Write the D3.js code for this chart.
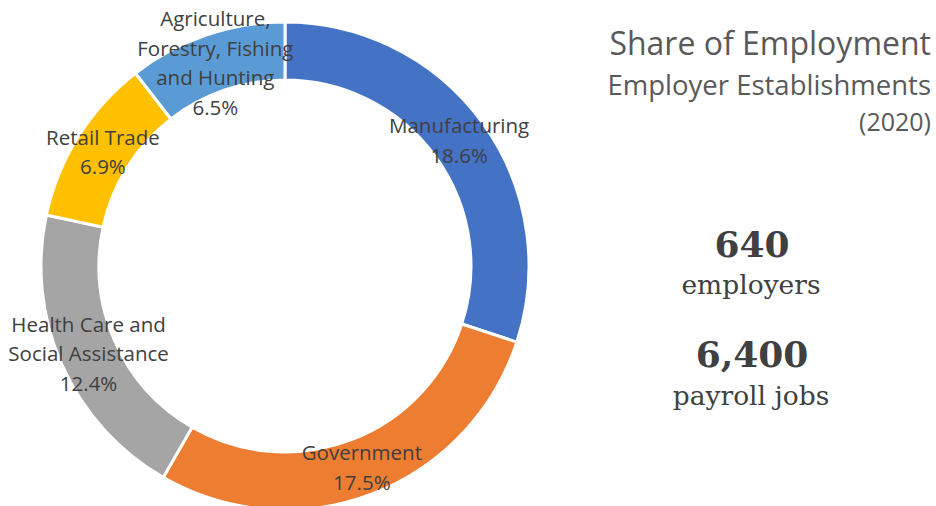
<!DOCTYPE html>
<html>
<head>
<meta charset="utf-8">
<script src="https://cdn.jsdelivr.net/npm/d3@7"></script>
<style>
  html, body { margin: 0; padding: 0; background: #fff; }
  svg { display: block; }
</style>
</head>
<body>
<svg id="chart" width="936" height="506"></svg>
<script>
// Industry shares of employment, clockwise from 12 o'clock
const categories = ["Manufacturing", "Government", "Health Care and Social Assistance", "Retail Trade", "Agriculture, Forestry, Fishing and Hunting"];
const labelLines = [
  ["Manufacturing"],
  ["Government"],
  ["Health Care and", "Social Assistance"],
  ["Retail Trade"],
  ["Agriculture,", "Forestry, Fishing", "and Hunting"]
];
const shares = [18.6, 17.5, 12.4, 6.9, 6.5];
const colors = ["#4472c4", "#ed7d31", "#a5a5a5", "#ffc000", "#5b9bd5"];

const titleLines = ["Share of Employment", "Employer Establishments", "(2020)"];
const employers = "640";
const payrollJobs = "6,400";

const svg = d3.select("#chart");
const cx = 285, cy = 266;
const outerR = 244, innerR = 186;

const data = categories.map((c, i) => ({ name: c, lines: labelLines[i], value: shares[i], color: colors[i] }));

const pie = d3.pie().sort(null).value(d => d.value);
const arc = d3.arc().innerRadius(innerR).outerRadius(outerR);
const labelArc = d3.arc().innerRadius((innerR + outerR) / 2).outerRadius((innerR + outerR) / 2);

const g = svg.append("g").attr("transform", `translate(${cx},${cy})`);
const arcs = pie(data);

g.selectAll("path.slice")
  .data(arcs)
  .join("path")
  .attr("class", "slice")
  .attr("d", arc)
  .attr("fill", d => d.data.color)
  .attr("stroke", "#fff")
  .attr("stroke-width", 3);

const lineH = 29.5;
const labels = g.selectAll("text.lbl")
  .data(arcs)
  .join("text")
  .attr("class", "lbl")
  .attr("transform", d => `translate(${labelArc.centroid(d)})`)
  .attr("text-anchor", "middle")
  .style("font-family", "'Open Sans', sans-serif")
  .style("font-size", "20.5px")
  .attr("fill", "#404040");

labels.each(function(d) {
  const lines = d.data.lines.concat([d.data.value.toFixed(1) + "%"]);
  const t = d3.select(this);
  const y0 = -(lines.length - 1) / 2 * lineH + 8;
  lines.forEach((ln, i) => {
    t.append("tspan").attr("x", 0).attr("y", y0 + i * lineH).text(ln);
  });
});

// Title block, right aligned
const title = svg.append("g").attr("fill", "#595959").style("font-family", "'Open Sans', sans-serif").attr("text-anchor", "end");
title.append("text").attr("x", 931).attr("y", 55).style("font-size", "32px").text(titleLines[0]);
title.append("text").attr("x", 931).attr("y", 95).style("font-size", "27.5px").text(titleLines[1]);
title.append("text").attr("x", 931).attr("y", 131).style("font-size", "25px").text(titleLines[2]);

// Headline counts
const stats = svg.append("g").attr("fill", "#404040").style("font-family", "'DejaVu Serif', serif").attr("text-anchor", "middle");
stats.append("text").attr("x", 752).attr("y", 257).style("font-size", "36px").style("font-weight", "bold").text(employers);
stats.append("text").attr("x", 751).attr("y", 294).style("font-size", "26.5px").text("employers");
stats.append("text").attr("x", 752).attr("y", 367).style("font-size", "36px").style("font-weight", "bold").text(payrollJobs);
stats.append("text").attr("x", 751).attr("y", 405).style("font-size", "26.5px").text("payroll jobs");
</script>
</body>
</html>
